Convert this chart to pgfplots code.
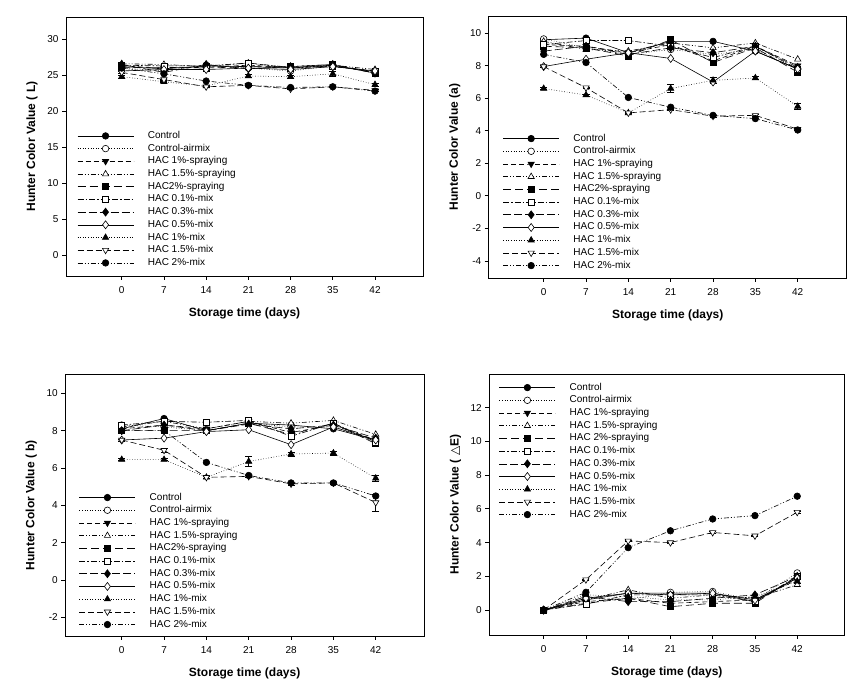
\documentclass[border=0pt]{standalone}
\usepackage{pgfplots}
\usepackage{pgfplotstable}
\usepackage{fontspec}
\setmainfont{Liberation Sans}
\newfontfamily\dejavu{DejaVu Sans}
\pgfplotsset{compat=1.18}

\pgfplotstableread{
d  A    B    C    D    E    F    G    H    I    J    K    Ie   Je
0  26.2 26.0 26.3 26.6 26.1 26.4 26.5 25.6 24.8 25.4 26.0 0.2  0.1
7  25.9 25.6 26.0 26.5 26.1 26.3 25.4 25.8 24.1 24.4 25.2 0.1  0.1
14 26.3 26.4 26.1 26.2 26.0 26.3 26.5 25.8 23.5 23.4 24.2 0.1  0.1
21 26.2 26.0 26.4 26.7 26.2 26.7 25.9 26.0 24.9 23.6 23.6 0.2  0.1
28 26.0 25.6 26.1 26.1 26.2 26.0 26.2 25.8 24.8 23.1 23.3 0.2  0.1
35 26.4 26.3 26.2 26.4 26.5 26.3 26.5 26.2 25.2 23.4 23.4 0.3  0.1
42 25.3 25.5 25.6 25.8 25.3 25.5 25.3 25.6 23.7 22.9 22.8 0.2  0.1
}\tL
\pgfplotstableread{
d  A    B    C    D    E    F    G    H    I    J    K    Ie   Je
0  9.60 9.65 9.30 9.50 9.20 9.30 8.90 7.95 6.60 7.95 8.70 0.05 0.05
7  9.70 9.10 9.20 9.00 9.10 9.55 9.20 8.40 6.20 6.65 8.20 0.05 0.05
14 8.80 8.70 8.80 8.90 8.60 9.55 8.70 8.80 5.10 5.10 6.05 0.05 0.05
21 9.50 9.00 9.30 9.40 9.60 9.20 9.10 8.45 6.60 5.30 5.45 0.25 0.05
28 9.50 8.70 8.30 9.10 8.20 8.50 8.80 7.00 7.10 4.90 4.95 0.20 0.05
35 8.90 9.00 9.20 9.40 9.10 9.20 9.20 8.90 7.25 4.95 4.75 0.10 0.05
42 7.80 7.80 8.00 8.40 7.60 7.80 7.90 7.80 5.50 4.10 4.05 0.20 0.05
}\tA
\pgfplotstableread{
d  A    B    C    D    E    F    G    H    I    J    K    Ie   Je
0  8.10 8.30 8.10 8.20 8.00 8.30 8.00 7.50 6.45 7.50 8.00 0.05 0.05
7  8.65 8.20 8.30 8.50 8.00 8.50 8.30 7.60 6.45 6.95 8.00 0.05 0.10
14 8.00 8.00 8.10 8.10 8.00 8.45 8.00 7.95 5.50 5.50 6.30 0.05 0.05
21 8.40 8.40 8.50 8.50 8.40 8.55 8.35 8.05 6.35 5.55 5.60 0.25 0.05
28 8.30 8.20 7.90 8.40 7.80 7.70 8.10 7.25 6.75 5.15 5.20 0.10 0.05
35 8.10 8.20 8.30 8.55 8.40 8.40 8.30 8.20 6.80 5.20 5.20 0.10 0.05
42 7.50 7.40 7.50 7.80 7.30 7.40 7.60 7.50 5.45 4.15 4.50 0.15 0.45
}\tB
\pgfplotstableread{
d  A    B    C    D    E    F    G    H    I    J    K    Ie   Je
0  0.00 0.00 0.00 0.00 0.00 0.00 0.00 0.00 0.00 0.00 0.00 0.05 0.05
7  0.60 0.70 0.50 0.60 0.40 0.35 0.80 0.70 0.90 1.80 1.05 0.05 0.05
14 1.00 0.60 0.70 1.20 0.70 0.90 0.50 1.00 0.80 4.10 3.70 0.05 0.05
21 1.00 1.05 0.40 0.70 0.20 0.90 0.50 0.90 0.60 4.00 4.70 0.05 0.05
28 1.00 1.10 0.50 0.90 0.40 0.90 0.70 1.00 0.60 4.60 5.40 0.05 0.05
35 0.50 0.60 0.60 0.70 0.40 0.50 0.90 0.60 0.80 4.40 5.60 0.05 0.05
42 1.90 2.20 1.80 1.50 2.00 2.00 2.00 1.90 1.70 5.80 6.75 0.10 0.05
}\tE

\pgfplotsset{
  sA/.style={solid, mark=*, mark size=3.3pt, mark options={solid, fill=black}},
  sB/.style={dotted, mark=*, mark size=3.3pt, mark options={solid, fill=white}},
  sC/.style={dash pattern=on 5pt off 3pt, mark=triangle*, mark size=3.6pt, mark options={solid, fill=black, rotate=180}},
  sD/.style={dash pattern=on 5pt off 2pt on 1pt off 2pt on 1pt off 2pt, mark=triangle*, mark size=3.6pt, mark options={solid, fill=white}},
  sE/.style={dash pattern=on 8pt off 4pt, mark=square*, mark size=3pt, mark options={solid, fill=black}},
  sF/.style={dash pattern=on 6pt off 2pt on 1.5pt off 2pt, mark=square*, mark size=3pt, mark options={solid, fill=white}},
  sG/.style={dash pattern=on 8pt off 3pt, mark=diamond*, mark size=4pt, mark options={solid, fill=black}},
  sH/.style={solid, mark=diamond*, mark size=4pt, mark options={solid, fill=white}},
  sI/.style={dotted, mark=triangle*, mark size=3.6pt, mark options={solid, fill=black}},
  sJ/.style={dash pattern=on 6pt off 3pt, mark=triangle*, mark size=3.6pt, mark options={solid, fill=white, rotate=180}},
  sK/.style={dash pattern=on 5pt off 2pt on 1pt off 2pt on 1pt off 2pt, mark=*, mark size=3.3pt, mark options={solid, fill=black}},
  eb/.style={error bars/.cd, y dir=both, y explicit, error bar style={solid, line width=0.6pt}, error mark options={rotate=90, mark size=3.5pt, line width=0.6pt, solid}},
  pan/.style={scale only axis, anchor=south west,
    axis line style={line width=0.9pt}, tick align=outside, tick pos=left,
    major tick length=4pt, tick style={line width=0.8pt, black},
    xtick={0,7,14,21,28,35,42},
    tick label style={font=\fontsize{10}{12}\selectfont},
    xticklabel style={yshift=-3pt},
    /pgf/number format/assume math mode=true,
    every axis y label/.style={at={(axis description cs:-0.095,0.5)}, rotate=90, anchor=center, font=\bfseries\fontsize{12}{14}\selectfont},
    every axis x label/.style={at={(axis description cs:0.5,-0.143)}, anchor=center, font=\bfseries\fontsize{12}{14}\selectfont},
    xlabel={Storage time (days)},
    legend style={draw=none, fill=none, anchor=north west, inner sep=0pt,
      row sep=3.7pt, column sep=14pt,
      nodes={inner sep=0pt, text height=7pt, text depth=2pt, font=\fontsize{10}{12}\selectfont}},
    legend cell align=left,
    legend image code/.code={\draw[mark repeat=2,mark phase=2,##1] plot coordinates {(0pt,0pt) (28pt,0pt) (56pt,0pt)};},
    every axis plot/.append style={line width=0.6pt, black},
  },
}

\newcommand{\allplots}[2]{%
  \addplot[sA] table[x=d,y=A]{#1}; \addlegendentry{Control}
  \addplot[sB] table[x=d,y=B]{#1}; \addlegendentry{Control-airmix}
  \addplot[sC] table[x=d,y=C]{#1}; \addlegendentry{HAC 1\%-spraying}
  \addplot[sD] table[x=d,y=D]{#1}; \addlegendentry{HAC 1.5\%-spraying}
  \addplot[sE] table[x=d,y=E]{#1}; \addlegendentry{#2}
  \addplot[sF] table[x=d,y=F]{#1}; \addlegendentry{HAC 0.1\%-mix}
  \addplot[sG] table[x=d,y=G]{#1}; \addlegendentry{HAC 0.3\%-mix}
  \addplot[sH] table[x=d,y=H]{#1}; \addlegendentry{HAC 0.5\%-mix}
  \addplot[sI, eb] table[x=d,y=I,y error=Ie]{#1}; \addlegendentry{HAC 1\%-mix}
  \addplot[sJ, eb] table[x=d,y=J,y error=Je]{#1}; \addlegendentry{HAC 1.5\%-mix}
  \addplot[sK] table[x=d,y=K]{#1}; \addlegendentry{HAC 2\%-mix}
}

\begin{document}
\begin{tikzpicture}
\useasboundingbox (0,0) rectangle (864pt,695pt);

\begin{axis}[pan, at={(66pt,419pt)}, width=357pt, height=259pt,
  xmin=-9.24, xmax=49.96, ymin=-2.9, ymax=33.1, ytick={0,5,...,30},
  ylabel={Hunter Color Value ( L)},
  legend style={at={(axis description cs:0.031,0.559)}}]
\allplots{\tL}{HAC2\%-spraying}
\end{axis}

\begin{axis}[pan, at={(488.7pt,417pt)}, width=358pt, height=262pt,
  xmin=-9.09, xmax=50.1, ymin=-5.05, ymax=11.06, ytick={-4,-2,...,10},
  ylabel={Hunter Color Value (a)},
  legend style={at={(axis description cs:0.039,0.550)}}]
\allplots{\tA}{HAC2\%-spraying}
\end{axis}

\begin{axis}[pan, at={(65.3pt,59pt)}, width=358.7pt, height=261.7pt,
  xmin=-9.33, xmax=49.98, ymin=-3, ymax=11.02, ytick={-2,0,...,10},
  ylabel={Hunter Color Value ( b)},
  legend style={at={(axis description cs:0.038,0.547)}}]
\allplots{\tB}{HAC2\%-spraying}
\end{axis}

\begin{axis}[pan, at={(489.3pt,60pt)}, width=355pt, height=260.7pt,
  xmin=-9.0, xmax=49.8, ymin=-1.48, ymax=13.98, ytick={0,2,...,12},
  ylabel={Hunter Color Value ( {\dejavu\mdseries △}E)},
  legend style={at={(axis description cs:0.027,0.967)}}]
\allplots{\tE}{HAC 2\%-spraying}
\end{axis}
\end{tikzpicture}
\end{document}
